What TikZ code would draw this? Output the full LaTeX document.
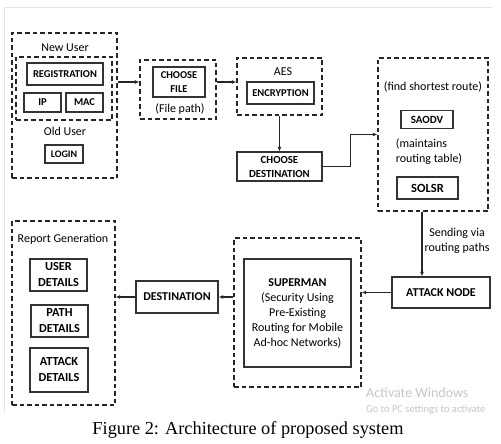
\documentclass[tikz,border=0pt]{standalone}
\usepackage{fontspec}
\setmainfont{Carlito}
\newfontfamily\captionfont{Liberation Serif}
\usetikzlibrary{arrows.meta,positioning}

\begin{document}
\begin{tikzpicture}[x=1pt, y=-1pt,
    box/.style={draw=black!80, line width=1.3pt, align=center, inner sep=0pt,
        font=\bfseries\fontsize{10.5}{14}\selectfont},
    bigbox/.style={box, font=\bfseries\fontsize{12.3}{16}\selectfont},
    group/.style={draw=black!85, line width=1.4pt, dash pattern=on 4.5pt off 3pt, inner sep=0pt},
    lbl/.style={align=center, inner sep=0pt, font=\fontsize{12}{15}\selectfont},
    arr/.style={draw=black!85, line width=1.2pt, -{Latex[length=4.5pt,width=4pt]}}]
    \useasboundingbox (0,0) rectangle (501,444);

    % Screenshot frame
    \draw[gray!20, line width=0.8pt] (4,413) -- (4,7) -- (493,7);

    % Users
    \node[group, minimum width=105, minimum height=145] (userbox) at (64.5,105.5) {};
    \node[lbl] (newuser) at (65,48) {New User};
    \node[group, minimum width=96, minimum height=63] (newbox) at (64,88.5) {};
    \node[box, minimum width=76, minimum height=22] (reg) at (65,74) {REGISTRATION};
    \node[box, minimum width=37, minimum height=19] (ip) at (42.5,102.5) {IP};
    \node[box, minimum width=37, minimum height=19] (mac) at (84.5,102.5) {MAC};
    \node[lbl] (olduser) at (65,131) {Old User};
    \node[box, minimum width=38, minimum height=18, font=\bfseries\fontsize{10}{14}\selectfont] (login) at (64,154) {LOGIN};

    % File
    \node[group, minimum width=76, minimum height=59] (filebox) at (178,89.5) {};
    \node[box, minimum width=52, minimum height=30] (file) at (179,82) {CHOOSE\\FILE};
    \node[lbl] (filepath) at (180,109) {(File path)};

    % Encryption
    \node[group, minimum width=85, minimum height=57] (aesbox) at (279.5,86.5) {};
    \node[lbl] (aes) at (283,72) {AES};
    \node[box, minimum width=67, minimum height=22] (enc) at (280.5,93) {ENCRYPTION};
    \node[box, minimum width=85, minimum height=29, font=\bfseries\fontsize{10.8}{14}\selectfont] (choosedest) at (279.5,166.5) {CHOOSE\\DESTINATION};

    % Routing
    \node[group, minimum width=110, minimum height=153] (routebox) at (433,134.5) {};
    \node[lbl] (shortest) at (433,87) {(find shortest route)};
    \node[box, minimum width=52, minimum height=18, font=\bfseries\fontsize{11}{14}\selectfont] (saodv) at (427,119.5) {SAODV};
    \node[lbl, align=left] (table) at (429,151.5) {(maintains\\routing table)};
    \node[bigbox, minimum width=61, minimum height=22, font=\bfseries\fontsize{12.5}{16}\selectfont] (solsr) at (427.5,188) {SOLSR};

    % Attack and SUPERMAN
    \node[bigbox, minimum width=98, minimum height=31, font=\bfseries\fontsize{12}{16}\selectfont] (attack) at (441,292.5) {ATTACK NODE};
    \node[group, minimum width=127, minimum height=149] (supbox) at (297.5,312.5) {};
    \node[box, minimum width=107, minimum height=108, font=\fontsize{12}{15}\selectfont] (superman) at (297.5,313)
        {\textbf{SUPERMAN}\\(Security Using\\Pre-Existing\\Routing for Mobile\\Ad-hoc Networks)};
    \node[bigbox, minimum width=82, minimum height=32, font=\bfseries\fontsize{12}{16}\selectfont] (destination) at (177,297) {DESTINATION};

    % Report
    \node[group, minimum width=103, minimum height=184] (reportbox) at (63.5,313) {};
    \node[lbl] (report) at (63,239) {Report Generation};
    \node[bigbox, minimum width=57, minimum height=32] (userdet) at (58.5,275) {USER\\DETAILS};
    \node[bigbox, minimum width=57, minimum height=32] (pathdet) at (59.5,321) {PATH\\DETAILS};
    \node[bigbox, minimum width=58, minimum height=44] (attackdet) at (59,370) {ATTACK\\DETAILS};

    % Connectors
    \draw[arr] (userbox.east |- file.center) -- (filebox.west |- file.center);
    \draw[arr] (filebox.east |- file.center) -- (aesbox.west |- file.center);
    \draw[arr] (aesbox.south) -- (choosedest.north);
    \draw[arr] (choosedest.east) -- ++(28,0) |- (routebox.west);
    \draw[arr] ([xshift=-11pt]routebox.south) -- ([xshift=-11pt]routebox.south |- attack.north)
        node[lbl, pos=0.45, right=2pt] (sending) {Sending via\\routing paths};
    \draw[arr] (attack.west) -- (attack.west -| supbox.east);
    \draw[arr] (supbox.west |- destination.center) -- (destination.east);
    \draw[arr] (destination.west) -- (destination.west -| reportbox.east);

    % Watermark and caption
    \begin{scope}
        \clip (0,0) rectangle (501,413);
        \node[anchor=west, text=gray!45, inner sep=0pt, font=\fontsize{14}{16}\selectfont] (activate) at (366,393) {Activate Windows};
        \node[anchor=west, text=gray!45, inner sep=0pt, font=\fontsize{10.5}{12}\selectfont] (settings) at (366,410) {Go to PC settings to activate};
    \end{scope}
    \node[font=\captionfont\fontsize{18.3}{22}\selectfont] (caption) at (248,430) {Figure 2: Architecture of proposed system};
\end{tikzpicture}
\end{document}
